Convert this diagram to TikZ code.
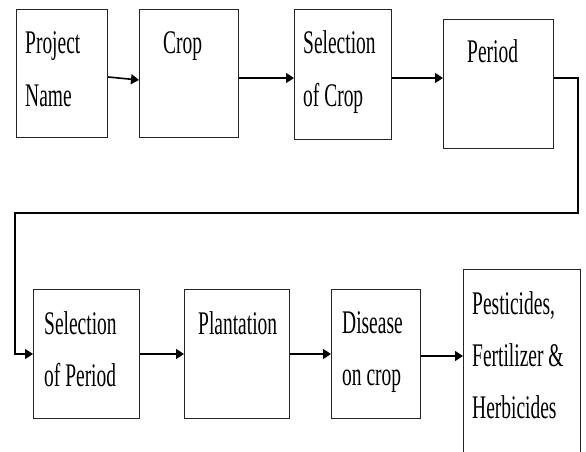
\documentclass[tikz,border=0pt]{standalone}
\usepackage{fontspec}
\setmainfont[FakeStretch=0.59]{Liberation Serif}
\usetikzlibrary{arrows.meta}
\begin{document}
\begin{tikzpicture}[x=1pt,y=-1pt,
  stepbox/.style={draw=black!85,line width=1.2pt,inner sep=0pt,anchor=north west},
  lbl/.style={anchor=base west,inner sep=0pt,align=left,
    font=\fontsize{33}{52}\selectfont},
  flow/.style={line width=1.6pt,-{Triangle[length=8pt,width=10pt]}}]
\useasboundingbox (0,0) rectangle (586,452);
\begin{scope}
\clip (0,0) rectangle (586,452);
% boxes of the first row
\node[stepbox,minimum width=91pt,minimum height=128pt] (b1) at (16,9) {};
\node[stepbox,minimum width=99pt,minimum height=128pt] (b2) at (139,9) {};
\node[stepbox,minimum width=97pt,minimum height=130pt] (b3) at (294,9) {};
\node[stepbox,minimum width=110pt,minimum height=129pt] (b4) at (443,19) {};
% boxes of the second row
\node[stepbox,minimum width=106pt,minimum height=129pt] (b5) at (33,289) {};
\node[stepbox,minimum width=105pt,minimum height=129pt] (b6) at (184,289) {};
\node[stepbox,minimum width=89pt,minimum height=129pt] (b7) at (331,289) {};
\node[stepbox,minimum width=117pt,minimum height=200pt] (b8) at (463,269) {};
\end{scope}
% labels (each anchored at the baseline of its last line)
\node[lbl] (t1) at (25,106) {Project\\Name};
\node[lbl] (t2) at (163,53) {Crop};
\node[lbl] (t3) at (303,106) {Selection\\of Crop};
\node[lbl] (t4) at (467,63) {Period};
\node[lbl] (t5) at (44,386) {Selection\\of Period};
\node[lbl] (t6) at (198,334) {Plantation};
\node[lbl] (t7) at (342,385) {Disease\\on crop};
\node[lbl] (t8) at (472,418) {Pesticides,\\Fertilizer \&\\Herbicides};
% connectors
\coordinate (r1) at (578,78);
\coordinate (r2) at (578,213);
\coordinate (r3) at (15,213);
\coordinate (r4) at (15,354);
\draw[flow] (b1.east |- 0,77) -- (b2.west |- 0,80);
\draw[flow] (b2.east |- 0,78) -- (b3.west |- 0,78);
\draw[flow] (b3.east |- 0,78) -- (b4.west |- 0,78);
\draw[flow] (b4.east |- r1) -- (r1) -- (r2) -- (r3) -- (r4) -- (b5.west |- r4);
\draw[flow] (b5.east |- 0,354) -- (b6.west |- 0,354);
\draw[flow] (b6.east |- 0,354) -- (b7.west |- 0,354);
\draw[flow] (b7.east |- 0,356) -- (b8.west |- 0,356);
\end{tikzpicture}
\end{document}
